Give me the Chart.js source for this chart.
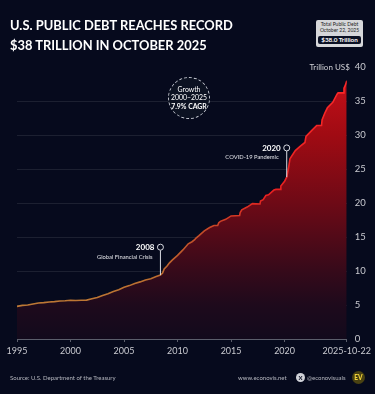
<!DOCTYPE html>
<html>
<head>
<meta charset="utf-8">
<script src="https://cdn.jsdelivr.net/npm/chart.js@4.4.1/dist/chart.umd.min.js"></script>
<style>
  body { margin: 0; background: #060a1d; }
  #wrap { position: relative; width: 375px; height: 394px; overflow: hidden; font-family: Lato, "Open Sans", sans-serif; }
  #c { position: absolute; left: 0; top: 0; }
  .title { position: absolute; left: 10px; top: 15px; color: #fff; font-weight: 700; font-size: 12.9px; line-height: 20px; white-space: nowrap; }
  .badge { position: absolute; left: 316px; top: 20px; width: 47px; height: 27px; background: #d6d7da; border-radius: 2px; text-align: center; color: #222; font-size: 5px; line-height: 5.8px; padding-top: 2px; box-sizing: border-box; white-space: nowrap; }
  .badge .big { margin: 2px 2px 0; background: #0b1124; color: #fff; font-weight: 700; font-size: 6.3px; line-height: 8.5px; border-radius: 2px; }
  .growth { position: absolute; left: 168px; top: 77px; width: 42px; height: 42px; border-radius: 50%; border: 1px dashed #c8cbd4; background: #0c1222; color: #fff; text-align: center; font-size: 6.9px; line-height: 8.4px; box-sizing: border-box; padding-top: 7px; white-space: nowrap; }
  .foot { position: absolute; top: 374px; color: #b5b7bf; font-size: 6px; white-space: nowrap; }
  .xicon { position: absolute; left: 296px; top: 373px; width: 9px; height: 9px; border-radius: 50%; background: #d0d2d8; color: #060a1d; font-size: 6px; font-weight: 700; line-height: 9px; text-align: center; }
  .ev { position: absolute; left: 352px; top: 371px; width: 13px; height: 13px; border-radius: 50%; background: #4a4212; color: #f2d33a; font-size: 6.5px; font-weight: 900; line-height: 13px; text-align: center; }
</style>
</head>
<body>
<div id="wrap">
  <canvas id="c" width="375" height="394"></canvas>
  <div class="title">U.S. PUBLIC DEBT REACHES RECORD<br>$38 TRILLION IN OCTOBER 2025</div>
  <div class="badge">Total Public Debt<br>October 22, 2025<div class="big">$38.0 Trillion</div></div>
  <div class="growth">Growth<br>2000–2025<br><b>7.9% CAGR</b></div>
  <div class="foot" style="left:10px">Source: U.S. Department of the Treasury</div>
  <div class="foot" style="left:238px">www.econovis.net</div>
  <div class="xicon">X</div>
  <div class="foot" style="left:307px">@econovisuals</div>
  <div class="ev">EV</div>
</div>
<script>
// total public debt outstanding, trillion US$
const years = [1995.0, 1995.5, 1996.0, 1996.5, 1997.0, 1997.5, 1998.0, 1998.5, 1999.0, 1999.5,
  2000.0, 2000.5, 2001.0, 2001.5, 2002.0, 2002.5, 2003.0, 2003.5, 2004.0, 2004.5,
  2005.0, 2005.5, 2006.0, 2006.5, 2007.0, 2007.5, 2008.0, 2008.4, 2008.6, 2008.75,
  2009.0, 2009.25, 2009.5, 2010.0, 2010.5, 2011.0, 2011.35, 2011.6, 2011.7, 2012.0,
  2012.5, 2013.0, 2013.4, 2013.75, 2013.85, 2014.0, 2014.5, 2015.0, 2015.8, 2015.85,
  2016.0, 2016.5, 2017.0, 2017.7, 2017.75, 2018.0, 2018.25, 2018.5, 2019.0, 2019.2,
  2019.6, 2019.65, 2020.0, 2020.2, 2020.35, 2020.5, 2021.0, 2021.5, 2021.9, 2022.0,
  2022.5, 2023.0, 2023.45, 2023.5, 2023.75, 2024.0, 2024.5, 2024.9, 2025.0, 2025.5,
  2025.55, 2025.7, 2025.81];
const debt = [4.80, 4.95, 5.00, 5.15, 5.30, 5.35, 5.45, 5.50, 5.58, 5.62,
  5.70, 5.66, 5.70, 5.72, 5.92, 6.10, 6.40, 6.67, 7.00, 7.25,
  7.60, 7.85, 8.17, 8.40, 8.68, 8.87, 9.18, 9.40, 9.70, 10.3,
  10.7, 11.2, 11.6, 12.3, 13.1, 14.0, 14.3, 14.6, 14.8, 15.2,
  15.9, 16.4, 16.7, 16.7, 17.1, 17.3, 17.6, 18.1, 18.15, 18.6,
  19.0, 19.4, 19.9, 19.85, 20.3, 20.5, 21.1, 21.2, 21.9, 22.0,
  22.0, 22.5, 23.2, 23.8, 25.0, 26.5, 27.7, 28.4, 28.9, 29.8,
  30.6, 31.4, 31.4, 32.2, 33.2, 34.0, 34.8, 36.0, 36.2, 36.2,
  36.9, 37.4, 38.0];

const xTickValues = [1995, 2000, 2005, 2010, 2015, 2020, 2025.81];
const xTickLabels = ['1995', '2000', '2005', '2010', '2015', '2020', '2025-10-22'];
const yMax = 40;

const events = [
  { year: 2008.4, head: '2008', note: 'Global Financial Crisis', top: 13.5 },
  { year: 2020.2, head: '2020', note: 'COVID-19 Pandemic', top: 28.1 }
];

function vGrad(chart, stops) {
  const { ctx, scales } = chart;
  const g = ctx.createLinearGradient(0, scales.y.getPixelForValue(0), 0, scales.y.getPixelForValue(yMax));
  stops.forEach(s => g.addColorStop(s[0] / yMax, s[1]));
  return g;
}

const eventsPlugin = {
  id: 'events',
  afterDatasetsDraw(chart) {
    const { ctx, scales } = chart;
    ctx.save();
    events.forEach(ev => {
      const i = years.indexOf(ev.year);
      const x = scales.x.getPixelForValue(ev.year);
      const yb = scales.y.getPixelForValue(debt[i]);
      const yt = scales.y.getPixelForValue(ev.top);
      ctx.strokeStyle = '#d9dbe2';
      ctx.lineWidth = 1;
      ctx.beginPath();
      ctx.moveTo(x, yb);
      ctx.lineTo(x, yt + 3);
      ctx.stroke();
      ctx.beginPath();
      ctx.arc(x, yt, 3, 0, Math.PI * 2);
      ctx.fillStyle = '#060a1d';
      ctx.fill();
      ctx.stroke();
      ctx.fillStyle = '#fff';
      ctx.textAlign = 'right';
      ctx.textBaseline = 'middle';
      ctx.font = '700 8px Lato';
      ctx.fillText(ev.head, x - 6, yt + 0.5);
      ctx.font = '5.8px Lato';
      ctx.fillStyle = '#e4e5ea';
      ctx.fillText(ev.note, x - 8, yt + 9.5);
    });
    // unit label next to the top tick
    ctx.font = '8px Lato';
    ctx.fillStyle = '#d0d1d6';
    ctx.textAlign = 'right';
    ctx.fillText('Trillion US$', scales.x.right + 3, scales.y.getPixelForValue(yMax));
    ctx.restore();
  }
};

new Chart(document.getElementById('c'), {
  type: 'line',
  data: {
    datasets: [{
      data: years.map((y, i) => ({ x: y, y: debt[i] })),
      borderWidth: 1.6,
      pointRadius: 0,
      tension: 0,
      fill: 'origin',
      borderColor: c => c.chart.chartArea ? vGrad(c.chart, [[0, '#c0863a'], [9, '#bb6e30'], [16, '#c44a28'], [21, '#e62020'], [40, '#ff2a2a']]) : '#f22',
      backgroundColor: c => c.chart.chartArea ? vGrad(c.chart, [[0, '#120a1c'], [5, '#1e0a1c'], [10, '#360a1a'], [20, '#6e0a16'], [30, '#a00b13'], [40, '#cc101a']]) : '#700'
    }]
  },
  options: {
    responsive: false,
    animation: false,
    layout: { padding: { left: 17, top: 67, right: 0, bottom: 39 } },
    plugins: { legend: { display: false }, tooltip: { enabled: false } },
    scales: {
      x: {
        type: 'linear',
        min: 1995,
        max: 2025.81,
        afterBuildTicks: s => { s.ticks = xTickValues.map(v => ({ value: v })); },
        afterFit: s => { s.height = 16; },
        ticks: {
          autoSkip: false, maxRotation: 0, padding: 4,
          color: '#c9cad0', font: { family: 'Lato', size: 9 },
          callback: (v, i) => xTickLabels[i]
        },
        grid: { drawOnChartArea: false, tickLength: 3, color: '#5b5e6b' },
        border: { color: '#5b5e6b' }
      },
      y: {
        position: 'right',
        min: 0,
        max: yMax,
        afterFit: s => { s.width = 28; },
        ticks: { stepSize: 5, padding: 8, color: '#c9cad0', font: { family: 'Lato', size: 9.5 } },
        grid: {
          drawTicks: false,
          color: c => (c.tick.value === 0 || c.tick.value === yMax) ? 'rgba(0,0,0,0)' : 'rgba(255,255,255,0.09)'
        },
        border: { display: false }
      }
    }
  },
  plugins: [eventsPlugin]
});
</script>
</body>
</html>
